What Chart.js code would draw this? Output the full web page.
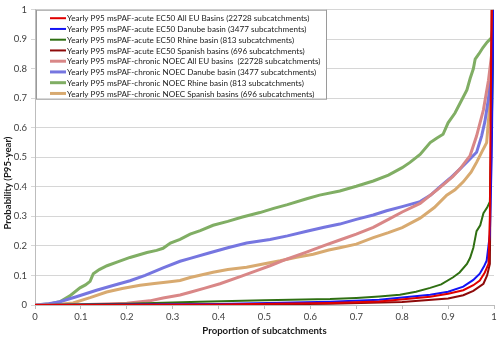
<!DOCTYPE html>
<html>
<head>
<meta charset="utf-8">
<script src="https://cdn.jsdelivr.net/npm/chart.js@4.4.1/dist/chart.umd.min.js"></script>
<style>
  html, body { margin: 0; padding: 0; background: #fff; }
  #wrap { position: relative; width: 500px; height: 337px; }
</style>
</head>
<body>
<div id="wrap"><canvas id="myChart" width="500" height="337"></canvas></div>
<script>
// cumulative curves: x = proportion of subcatchments, y = probability (P95-year)
var acuteAllEuX = [0, 0.4, 0.643, 0.75, 0.861, 0.9, 0.933, 0.955, 0.969, 0.98, 0.988, 0.991, 0.993, 0.995];
var acuteAllEuY = [0, 0.002, 0.007, 0.012, 0.028, 0.038, 0.05, 0.067, 0.083, 0.11, 0.139, 0.3, 0.7, 1];

var acuteDanubeX = [0, 0.4, 0.643, 0.75, 0.861, 0.9, 0.933, 0.955, 0.969, 0.978, 0.984, 0.991, 0.995, 0.998, 1];
var acuteDanubeY = [0, 0.003, 0.011, 0.018, 0.035, 0.045, 0.062, 0.085, 0.106, 0.13, 0.15, 0.239, 0.5, 0.9, 1];

var acuteRhineX = [0, 0.2, 0.359, 0.5, 0.643, 0.7, 0.75, 0.795, 0.83, 0.861, 0.885, 0.911, 0.925, 0.941, 0.948, 0.955, 0.962, 0.97, 0.977, 0.985, 0.991, 0.995, 1];
var acuteRhineY = [0, 0.004, 0.011, 0.016, 0.02, 0.024, 0.029, 0.035, 0.045, 0.058, 0.07, 0.094, 0.11, 0.139, 0.16, 0.194, 0.25, 0.27, 0.311, 0.33, 0.35, 0.6, 1];

var acuteSpainX = [0, 0.4, 0.643, 0.8, 0.9, 0.933, 0.955, 0.977, 0.985, 0.991, 0.993, 0.995];
var acuteSpainY = [0, 0.001, 0.004, 0.01, 0.022, 0.033, 0.048, 0.072, 0.1, 0.139, 0.5, 1];

var chronicAllEuX = [0, 0.1, 0.2, 0.25, 0.279, 0.316, 0.338, 0.37, 0.403, 0.45, 0.48, 0.512, 0.548, 0.59, 0.628, 0.664, 0.7, 0.737, 0.77, 0.8, 0.839, 0.88, 0.91, 0.926, 0.948, 0.962, 0.977, 0.988, 0.995, 1];
var chronicAllEuY = [0, 0.001, 0.006, 0.014, 0.024, 0.034, 0.043, 0.057, 0.072, 0.098, 0.115, 0.133, 0.155, 0.178, 0.2, 0.22, 0.24, 0.263, 0.29, 0.315, 0.344, 0.395, 0.435, 0.461, 0.506, 0.572, 0.661, 0.761, 0.85, 1];

var chronicDanubeX = [0, 0.03, 0.054, 0.09, 0.134, 0.17, 0.207, 0.24, 0.279, 0.316, 0.338, 0.381, 0.42, 0.461, 0.512, 0.55, 0.592, 0.63, 0.664, 0.7, 0.737, 0.766, 0.8, 0.839, 0.862, 0.882, 0.905, 0.926, 0.945, 0.962, 0.973, 0.98, 0.988, 0.994, 0.998, 1];
var chronicDanubeY = [0, 0.004, 0.011, 0.028, 0.05, 0.066, 0.082, 0.1, 0.126, 0.148, 0.158, 0.177, 0.194, 0.21, 0.222, 0.234, 0.25, 0.263, 0.274, 0.29, 0.305, 0.319, 0.333, 0.35, 0.372, 0.4, 0.43, 0.461, 0.49, 0.517, 0.572, 0.62, 0.7, 0.8, 0.9, 1];

var chronicRhineX = [0, 0.03, 0.054, 0.075, 0.098, 0.11, 0.12, 0.127, 0.14, 0.157, 0.18, 0.207, 0.244, 0.265, 0.279, 0.295, 0.316, 0.338, 0.36, 0.388, 0.42, 0.45, 0.49, 0.52, 0.55, 0.592, 0.62, 0.664, 0.7, 0.737, 0.77, 0.8, 0.817, 0.839, 0.861, 0.875, 0.889, 0.9, 0.915, 0.926, 0.941, 0.948, 0.955, 0.959, 0.967, 0.976, 0.985, 0.995, 0.998, 1];
var chronicRhineY = [0, 0.003, 0.011, 0.03, 0.058, 0.068, 0.08, 0.106, 0.12, 0.133, 0.146, 0.161, 0.178, 0.185, 0.192, 0.21, 0.222, 0.24, 0.252, 0.27, 0.283, 0.297, 0.313, 0.327, 0.34, 0.36, 0.372, 0.386, 0.402, 0.42, 0.44, 0.465, 0.483, 0.51, 0.55, 0.565, 0.578, 0.617, 0.65, 0.683, 0.728, 0.767, 0.8, 0.833, 0.85, 0.872, 0.89, 0.906, 0.95, 1];

var chronicSpainX = [0, 0.04, 0.083, 0.12, 0.156, 0.19, 0.229, 0.26, 0.294, 0.316, 0.338, 0.388, 0.42, 0.461, 0.5, 0.534, 0.57, 0.606, 0.64, 0.664, 0.7, 0.737, 0.77, 0.8, 0.839, 0.87, 0.897, 0.915, 0.933, 0.95, 0.962, 0.973, 0.984, 0.991, 0.995, 1];
var chronicSpainY = [0, 0.001, 0.007, 0.025, 0.044, 0.056, 0.067, 0.073, 0.079, 0.083, 0.093, 0.111, 0.12, 0.128, 0.14, 0.15, 0.162, 0.172, 0.186, 0.194, 0.206, 0.228, 0.245, 0.262, 0.294, 0.33, 0.372, 0.39, 0.417, 0.45, 0.483, 0.517, 0.55, 0.683, 0.85, 1];

var seriesLabels = [
    'Yearly P95 msPAF-acute EC50 All EU Basins (22728 subcatchments)',
    'Yearly P95 msPAF-acute EC50 Danube basin (3477 subcatchments)',
    'Yearly P95 msPAF-acute EC50 Rhine basin (813 subcatchments)',
    'Yearly P95 msPAF-acute EC50 Spanish basins (696 subcatchments)',
    'Yearly P95 msPAF-chronic NOEC All EU basins  (22728 subcatchments)',
    'Yearly P95 msPAF-chronic NOEC Danube basin (3477 subcatchments)',
    'Yearly P95 msPAF-chronic NOEC Rhine basin (813 subcatchments)',
    'Yearly P95 msPAF-chronic NOEC Spanish basins (696 subcatchments)'
];
var seriesX = [acuteAllEuX, acuteDanubeX, acuteRhineX, acuteSpainX, chronicAllEuX, chronicDanubeX, chronicRhineX, chronicSpainX];
var seriesY = [acuteAllEuY, acuteDanubeY, acuteRhineY, acuteSpainY, chronicAllEuY, chronicDanubeY, chronicRhineY, chronicSpainY];
var seriesColors = ['#e00000', '#1414f5', '#2f6f12', '#8e0a0a', '#d98787', '#7676e0', '#80ae64', '#d8aa70'];
var seriesWidths = [2, 2, 2, 2, 3, 3, 3, 3];

var FONT = 'Lato, "Liberation Sans", sans-serif';

function toPoints(xs, ys) {
    var pts = [];
    for (var i = 0; i < xs.length; i++) pts.push({ x: xs[i], y: ys[i] });
    return pts;
}

var datasets = [];
for (var i = 0; i < seriesLabels.length; i++) {
    datasets.push({
        label: seriesLabels[i],
        data: toPoints(seriesX[i], seriesY[i]),
        borderColor: seriesColors[i],
        backgroundColor: seriesColors[i],
        borderWidth: seriesWidths[i],
        showLine: true,
        pointRadius: 0,
        tension: 0,
        fill: false
    });
}

// tick labels as 0, 0.1 ... 1
function tickText(v) {
    return String(Math.round(v * 10) / 10);
}

// legend box in the top-left corner of the plot plus the two axis titles
var overlay = {
    id: 'overlay',
    afterDraw: function (chart) {
        var ctx = chart.ctx;
        var left = chart.chartArea.left + 1;
        var top = chart.chartArea.top;
        ctx.save();
        ctx.fillStyle = '#fff';
        ctx.fillRect(left, top, 290, 89);
        ctx.strokeStyle = '#9a9a9a';
        ctx.lineWidth = 1;
        ctx.strokeRect(left + 0.5, top + 0.5, 290, 89);

        ctx.font = '8.1px ' + FONT;
        ctx.textBaseline = 'middle';
        ctx.textAlign = 'left';
        chart.data.datasets.forEach(function (ds, k) {
            var y = top + 8.5 + k * 10.75;
            ctx.strokeStyle = ds.borderColor;
            ctx.lineWidth = ds.borderWidth;
            ctx.beginPath();
            ctx.moveTo(left + 14, y);
            ctx.lineTo(left + 30, y);
            ctx.stroke();
            ctx.fillStyle = '#1a1a1a';
            ctx.fillText(ds.label, left + 31, y + 0.5);
        });

        ctx.fillStyle = '#1a1a1a';
        ctx.font = 'bold 9.6px ' + FONT;
        ctx.textAlign = 'center';
        ctx.fillText('Proportion of subcatchments', (chart.chartArea.left + chart.chartArea.right) / 2, 331);

        ctx.translate(8, 183);
        ctx.rotate(-Math.PI / 2);
        ctx.fillText('Probability (P95-year)', 0, 0);
        ctx.restore();
    }
};

var ctx = document.getElementById('myChart').getContext('2d');
var myChart = new Chart(ctx, {
    type: 'scatter',
    data: { datasets: datasets },
    options: {
        responsive: false,
        animation: false,
        layout: { padding: { top: 5, right: 6, left: 0, bottom: 0 } },
        plugins: { legend: { display: false }, tooltip: { enabled: false } },
        scales: {
            x: {
                type: 'linear',
                min: 0,
                max: 1,
                afterFit: function (s) { s.height = 32; },
                ticks: { stepSize: 0.1, autoSkip: false, maxRotation: 0, padding: 2, color: '#404040', font: { family: FONT, size: 9.5 }, callback: tickText },
                grid: { drawOnChartArea: false, drawTicks: true, tickLength: 4, color: '#bdbdbd' },
                border: { color: '#bdbdbd' }
            },
            y: {
                type: 'linear',
                min: 0,
                max: 1,
                afterFit: function (s) { s.width = 35; },
                ticks: { stepSize: 0.1, autoSkip: false, padding: 4, color: '#404040', font: { family: FONT, size: 9.5 }, callback: tickText },
                grid: { color: '#d6d6d6', tickLength: 4 },
                border: { color: '#bdbdbd' }
            }
        }
    },
    plugins: [overlay]
});
</script>
</body>
</html>
